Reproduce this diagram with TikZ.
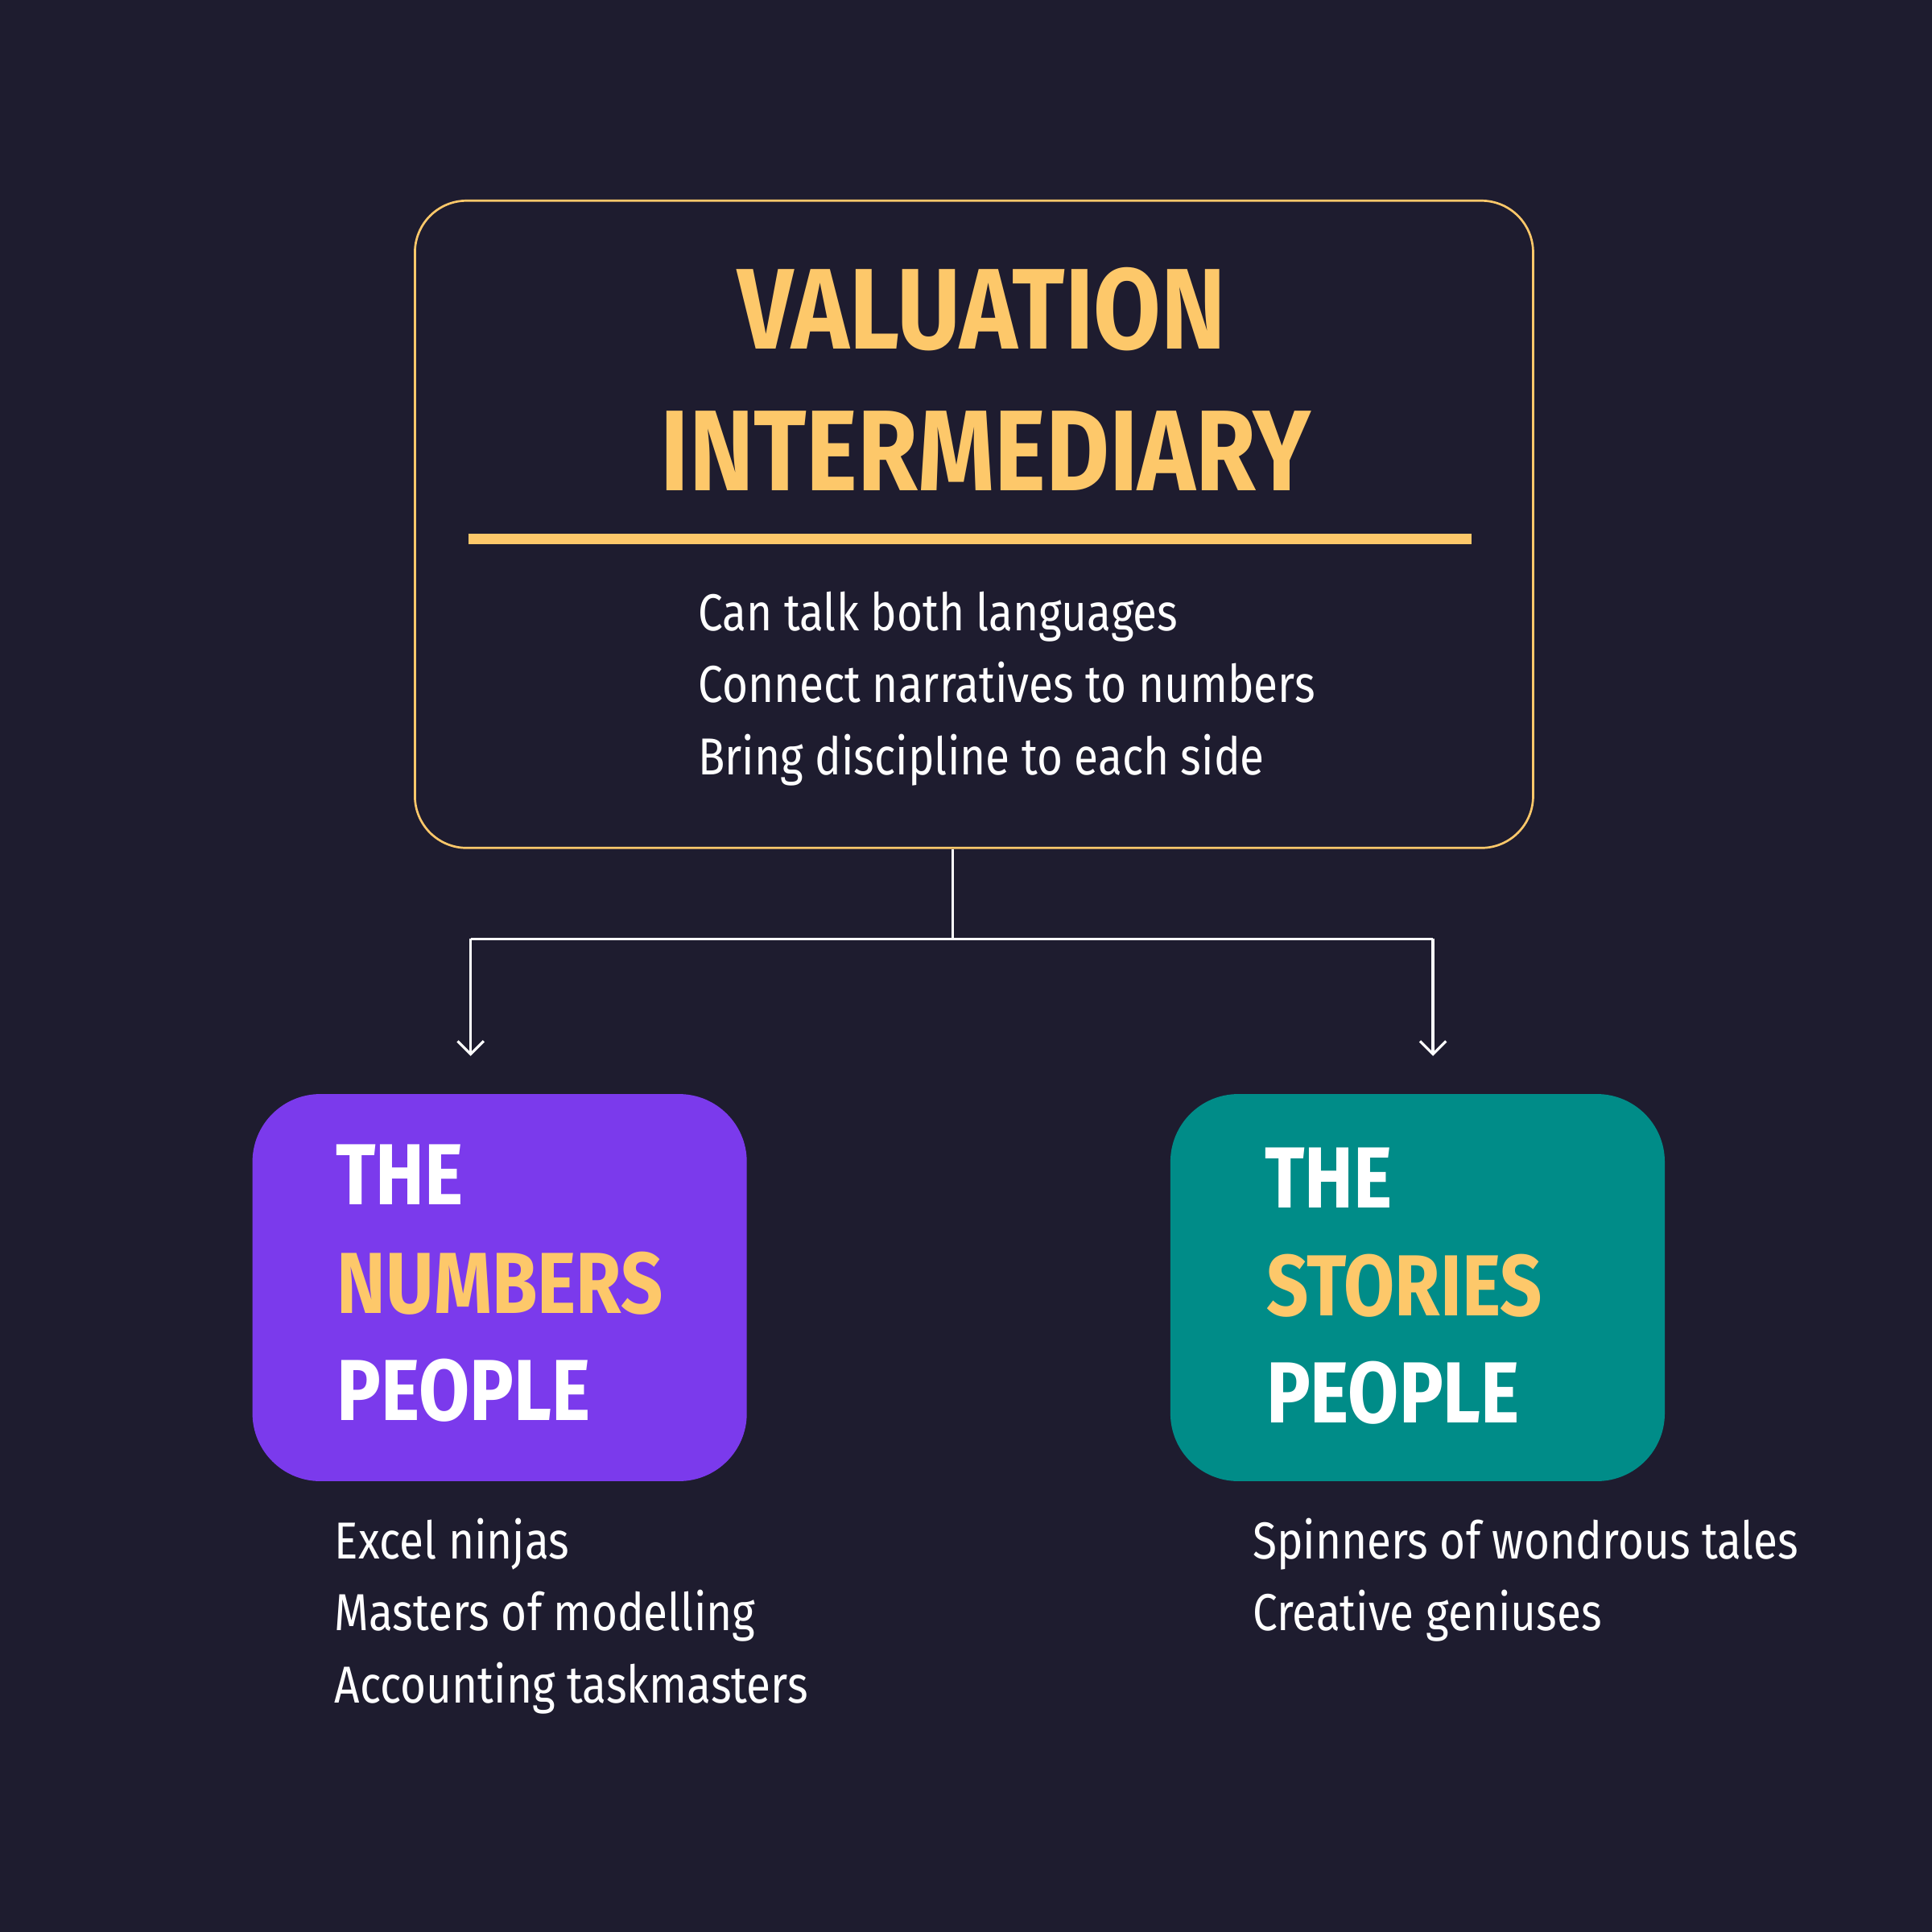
\documentclass[tikz,border=0pt]{standalone}
\usepackage{fontspec}
\usetikzlibrary{arrows.meta}
\newfontfamily\hand{Fira Sans}[FakeStretch=0.85]
\definecolor{bgc}{HTML}{1E1C2F}
\definecolor{gold}{HTML}{FDC86A}
\definecolor{violet}{HTML}{7B3AEC}
\definecolor{tealc}{HTML}{008C88}
\tikzset{
  titletext/.style={text=gold, font=\hand\bfseries\fontsize{26.5}{30}\selectfont, inner sep=0pt},
  boxhead/.style={font=\hand\bfseries\fontsize{20}{24}\selectfont, inner sep=0pt, anchor=base west},
  plain/.style={text=white, font=\hand\fontsize{12}{14}\selectfont, inner sep=0pt, anchor=base west},
  conn/.style={draw=white, line width=0.6pt},
  panel/.style={rounded corners=0.55cm, inner sep=0pt, minimum width=4.01cm, minimum height=3.14cm}
}
\begin{document}
\begin{tikzpicture}[x=0.01cm,y=-0.01cm]
\fill[bgc] (0,0) rectangle (1568,1568);
\useasboundingbox (0,0) rectangle (1568,1568);
% top box
\node[draw=gold, line width=0.5pt, rounded corners=0.42cm, minimum width=9.07cm, minimum height=5.25cm, inner sep=0pt] (top) at (790.5,425.5) {};
\node[titletext, anchor=base] (t1) at (797,283) {VALUATION};
\node[titletext, anchor=base] (t2) at (800,398) {INTERMEDIARY};
\coordinate (ruleL) at (380,437.5);
\coordinate (ruleR) at (1194,437.5);
\draw[gold, line width=2.3pt] (ruleL) -- (ruleR);
\node[plain] (a1) at (566,512) {Can talk both languages};
\node[plain] (a2) at (566,570) {Connect narratives to numbers};
\node[plain] (a3) at (566,629) {Bring discipline to each side};
% panels
\node[panel, fill=violet] (num) at (405.5,1045) {};
\node[panel, fill=tealc] (sto) at (1150.5,1045) {};
\node[boxhead, text=white] (n1) at (272,978) {THE};
\node[boxhead, text=gold] (n2) at (273,1066) {NUMBERS};
\node[boxhead, text=white] (n3) at (273,1153) {PEOPLE};
\node[boxhead, text=white] (s1) at (1026,980) {THE};
\node[boxhead, text=gold] (s2) at (1027,1068) {STORIES};
\node[boxhead, text=white] (s3) at (1027,1155) {PEOPLE};
% connectors
\coordinate (split) at (773,762);
\coordinate (lc) at (382,762);
\coordinate (rc) at (1163,762);
\coordinate (lend) at (382,857);
\coordinate (rend) at (1163,857);
\draw[conn] (top.south -| split) -- (split);
\draw[conn] (lc) -- (rc);
\draw[conn, -{Straight Barb[length=3pt,width=6pt]}] (lc) -- (lend);
\draw[conn, -{Straight Barb[length=3pt,width=6pt]}] (rc) -- (rend);
% lower lists
\node[plain] (b1) at (271,1265) {Excel ninjas};
\node[plain] (b2) at (271,1323) {Masters of modelling};
\node[plain] (b3) at (271,1382) {Accounting taskmasters};
\node[plain] (c1) at (1016,1265) {Spinners of wondrous tales};
\node[plain] (c2) at (1016,1323) {Creative geniuses};
\end{tikzpicture}
\end{document}
